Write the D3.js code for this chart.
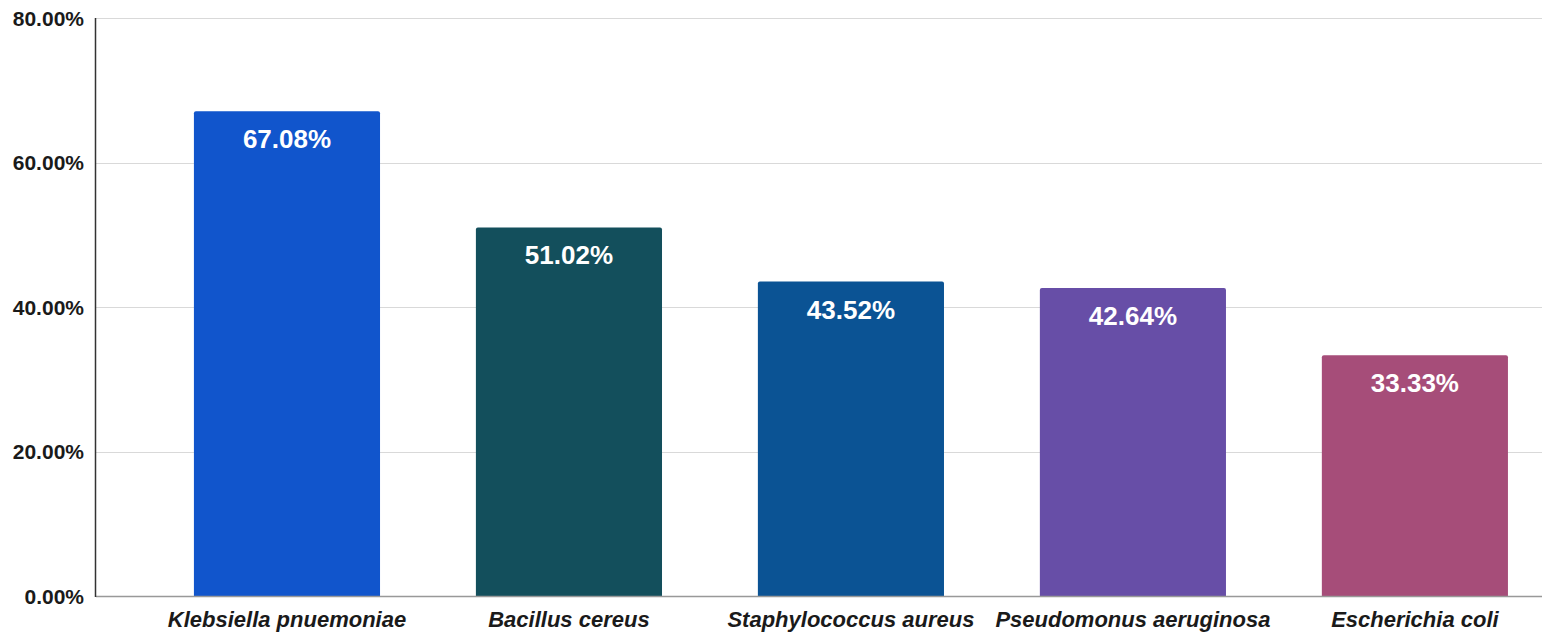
<!DOCTYPE html>
<html><head><meta charset="utf-8">
<script src="https://cdn.jsdelivr.net/npm/d3@7"></script>
<style>html,body{margin:0;padding:0;background:#fff;}svg{display:block;}</style>
</head><body>
<svg id="chart" width="1542" height="638"></svg>
<script>
const categories = ["Klebsiella pnuemoniae","Bacillus cereus","Staphylococcus aureus","Pseudomonus aeruginosa","Escherichia coli"];
const values = [67.08, 51.02, 43.52, 42.64, 33.33];
const colors = ["#1155cc","#134f5c","#0b5394","#674ea7","#a64d79"];
const yTicks = [0, 20, 40, 60, 80];

const svg = d3.select("#chart");
const mLeft = 96, mRight = 1542, mTop = 18, mBottom = 596;

const x = d3.scaleBand().domain(categories).range([mLeft, mRight])
  .paddingInner(0.34).paddingOuter(0.234).align(0.742);
const y = d3.scaleLinear().domain([0, 80]).range([mBottom, mTop]);

// gridlines
svg.append("g").selectAll("line").data(yTicks.filter(d => d > 0)).join("line")
  .attr("x1", mLeft).attr("x2", mRight)
  .attr("y1", d => Math.round(y(d)) + 0.5).attr("y2", d => Math.round(y(d)) + 0.5)
  .attr("stroke", "#d9d9d9").attr("stroke-width", 1);

// y tick labels
svg.append("g").selectAll("text").data(yTicks).join("text")
  .attr("x", 84).attr("y", d => y(d))
  .attr("dy", "0.36em")
  .attr("text-anchor", "end")
  .attr("font-family", "Liberation Sans, Arial, sans-serif")
  .attr("font-weight", "bold").attr("font-size", 21).attr("fill", "#1a1a1a")
  .text(d => d.toFixed(2) + "%");

// bars with slightly rounded top
const r = 2;
svg.append("g").selectAll("path").data(values).join("path")
  .attr("fill", (d, i) => colors[i])
  .attr("d", (d, i) => {
    const x0 = x(categories[i]), w = x.bandwidth(), y0 = y(d), y1 = y(0);
    return `M${x0},${y1}V${y0 + r}Q${x0},${y0} ${x0 + r},${y0}H${x0 + w - r}Q${x0 + w},${y0} ${x0 + w},${y0 + r}V${y1}Z`;
  });

// value labels
svg.append("g").selectAll("text").data(values).join("text")
  .attr("x", (d, i) => x(categories[i]) + x.bandwidth() / 2)
  .attr("y", d => y(d) + 37)
  .attr("text-anchor", "middle")
  .attr("font-family", "Liberation Sans, Arial, sans-serif")
  .attr("font-weight", "bold").attr("font-size", 26).attr("fill", "#ffffff")
  .text(d => d.toFixed(2) + "%");

// axes lines
svg.append("line").attr("x1", mLeft).attr("x2", mRight).attr("y1", mBottom + 0.5).attr("y2", mBottom + 0.5)
  .attr("stroke", "#999999").attr("stroke-width", 1.5);
svg.append("line").attr("x1", mLeft - 0.5).attr("x2", mLeft - 0.5).attr("y1", mTop).attr("y2", mBottom + 1)
  .attr("stroke", "#333333").attr("stroke-width", 1.5);

// x labels
svg.append("g").selectAll("text").data(categories).join("text")
  .attr("x", d => x(d) + x.bandwidth() / 2)
  .attr("y", 627)
  .attr("text-anchor", "middle")
  .attr("font-family", "Liberation Sans, Arial, sans-serif")
  .attr("font-weight", "bold").attr("font-style", "italic").attr("font-size", 22).attr("fill", "#1a1a1a")
  .text(d => d);
</script>
</body></html>
